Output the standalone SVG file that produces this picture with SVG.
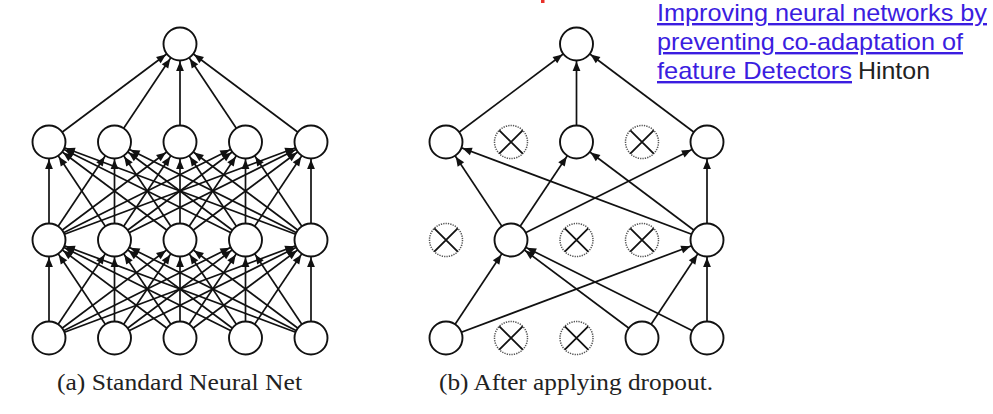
<svg xmlns="http://www.w3.org/2000/svg" xmlns:xlink="http://www.w3.org/1999/xlink" width="993" height="414" viewBox="0 0 993 414">
<style>
.bg{fill:#fff}
.n{fill:#fff;stroke:#111;stroke-width:1.9}
.d{fill:#fff;stroke:#555;stroke-width:1.5;stroke-dasharray:1.3 1.1}
.x{fill:none;stroke:#111;stroke-width:1.8}
.c line{stroke:#111;stroke-width:1.7;marker-end:url(#ah)}
.cap{font-family:"Liberation Serif","DejaVu Serif",serif;font-size:24px;fill:#222}
.ref{font-family:"Liberation Sans",Arial,sans-serif;font-size:24px}
.lnk{fill:#3b1de0;text-decoration:underline}
.blk{fill:#222}
</style>
<defs>
<marker id="ah" markerUnits="userSpaceOnUse" viewBox="-30 -10 40 20" markerWidth="40" markerHeight="20" refX="0" refY="0" orient="auto">
<path d="M-27,-3.9 L-17.6,0 L-27,3.9 Z" fill="#111"/>
</marker>
<g id="drop">
<circle class="d" cx="0" cy="0" r="16.5"/>
<path class="x" d="M-11.7,-11.7 L11.7,11.7 M11.7,-11.7 L-11.7,11.7"/>
</g>
</defs>
<rect class="bg" x="0" y="0" width="993" height="414"/>
<rect x="541" y="0" width="3.5" height="3" fill="#e8312a"/>

<g id="connectors" class="c">
<!-- (a) output -->
<line x1="49" y1="142" x2="180" y2="44"/>
<line x1="114.5" y1="142" x2="180" y2="44"/>
<line x1="180" y1="142" x2="180" y2="44"/>
<line x1="245.5" y1="142" x2="180" y2="44"/>
<line x1="311" y1="142" x2="180" y2="44"/>
<!-- (a) h2 -> h1 -->
<line x1="49" y1="240" x2="49" y2="142"/>
<line x1="114.5" y1="240" x2="49" y2="142"/>
<line x1="180" y1="240" x2="49" y2="142"/>
<line x1="245.5" y1="240" x2="49" y2="142"/>
<line x1="311" y1="240" x2="49" y2="142"/>
<line x1="49" y1="240" x2="114.5" y2="142"/>
<line x1="114.5" y1="240" x2="114.5" y2="142"/>
<line x1="180" y1="240" x2="114.5" y2="142"/>
<line x1="245.5" y1="240" x2="114.5" y2="142"/>
<line x1="311" y1="240" x2="114.5" y2="142"/>
<line x1="49" y1="240" x2="180" y2="142"/>
<line x1="114.5" y1="240" x2="180" y2="142"/>
<line x1="180" y1="240" x2="180" y2="142"/>
<line x1="245.5" y1="240" x2="180" y2="142"/>
<line x1="311" y1="240" x2="180" y2="142"/>
<line x1="49" y1="240" x2="245.5" y2="142"/>
<line x1="114.5" y1="240" x2="245.5" y2="142"/>
<line x1="180" y1="240" x2="245.5" y2="142"/>
<line x1="245.5" y1="240" x2="245.5" y2="142"/>
<line x1="311" y1="240" x2="245.5" y2="142"/>
<line x1="49" y1="240" x2="311" y2="142"/>
<line x1="114.5" y1="240" x2="311" y2="142"/>
<line x1="180" y1="240" x2="311" y2="142"/>
<line x1="245.5" y1="240" x2="311" y2="142"/>
<line x1="311" y1="240" x2="311" y2="142"/>
<!-- (a) in -> h2 -->
<line x1="49" y1="338" x2="49" y2="240"/>
<line x1="114.5" y1="338" x2="49" y2="240"/>
<line x1="180" y1="338" x2="49" y2="240"/>
<line x1="245.5" y1="338" x2="49" y2="240"/>
<line x1="311" y1="338" x2="49" y2="240"/>
<line x1="49" y1="338" x2="114.5" y2="240"/>
<line x1="114.5" y1="338" x2="114.5" y2="240"/>
<line x1="180" y1="338" x2="114.5" y2="240"/>
<line x1="245.5" y1="338" x2="114.5" y2="240"/>
<line x1="311" y1="338" x2="114.5" y2="240"/>
<line x1="49" y1="338" x2="180" y2="240"/>
<line x1="114.5" y1="338" x2="180" y2="240"/>
<line x1="180" y1="338" x2="180" y2="240"/>
<line x1="245.5" y1="338" x2="180" y2="240"/>
<line x1="311" y1="338" x2="180" y2="240"/>
<line x1="49" y1="338" x2="245.5" y2="240"/>
<line x1="114.5" y1="338" x2="245.5" y2="240"/>
<line x1="180" y1="338" x2="245.5" y2="240"/>
<line x1="245.5" y1="338" x2="245.5" y2="240"/>
<line x1="311" y1="338" x2="245.5" y2="240"/>
<line x1="49" y1="338" x2="311" y2="240"/>
<line x1="114.5" y1="338" x2="311" y2="240"/>
<line x1="180" y1="338" x2="311" y2="240"/>
<line x1="245.5" y1="338" x2="311" y2="240"/>
<line x1="311" y1="338" x2="311" y2="240"/>
<!-- (b) output -->
<line x1="446" y1="142" x2="576.5" y2="44"/>
<line x1="576.5" y1="142" x2="576.5" y2="44"/>
<line x1="707" y1="142" x2="576.5" y2="44"/>
<!-- (b) h2 -> h1 -->
<line x1="511" y1="240" x2="446" y2="142"/>
<line x1="707" y1="240" x2="446" y2="142"/>
<line x1="511" y1="240" x2="576.5" y2="142"/>
<line x1="707" y1="240" x2="576.5" y2="142"/>
<line x1="511" y1="240" x2="707" y2="142"/>
<line x1="707" y1="240" x2="707" y2="142"/>
<!-- (b) in -> h2 -->
<line x1="446" y1="338" x2="511" y2="240"/>
<line x1="642" y1="338" x2="511" y2="240"/>
<line x1="707" y1="338" x2="511" y2="240"/>
<line x1="446" y1="338" x2="707" y2="240"/>
<line x1="642" y1="338" x2="707" y2="240"/>
<line x1="707" y1="338" x2="707" y2="240"/>
</g>

<!-- (a) nodes -->
<g id="a-out"><circle class="n" cx="180" cy="44" r="16.5"/></g>
<g id="a-h1-1"><circle class="n" cx="49" cy="142" r="16.5"/></g>
<g id="a-h1-2"><circle class="n" cx="114.5" cy="142" r="16.5"/></g>
<g id="a-h1-3"><circle class="n" cx="180" cy="142" r="16.5"/></g>
<g id="a-h1-4"><circle class="n" cx="245.5" cy="142" r="16.5"/></g>
<g id="a-h1-5"><circle class="n" cx="311" cy="142" r="16.5"/></g>
<g id="a-h2-1"><circle class="n" cx="49" cy="240" r="16.5"/></g>
<g id="a-h2-2"><circle class="n" cx="114.5" cy="240" r="16.5"/></g>
<g id="a-h2-3"><circle class="n" cx="180" cy="240" r="16.5"/></g>
<g id="a-h2-4"><circle class="n" cx="245.5" cy="240" r="16.5"/></g>
<g id="a-h2-5"><circle class="n" cx="311" cy="240" r="16.5"/></g>
<g id="a-in-1"><circle class="n" cx="49" cy="338" r="16.5"/></g>
<g id="a-in-2"><circle class="n" cx="114.5" cy="338" r="16.5"/></g>
<g id="a-in-3"><circle class="n" cx="180" cy="338" r="16.5"/></g>
<g id="a-in-4"><circle class="n" cx="245.5" cy="338" r="16.5"/></g>
<g id="a-in-5"><circle class="n" cx="311" cy="338" r="16.5"/></g>

<!-- (b) nodes -->
<g id="b-out"><circle class="n" cx="576.5" cy="44" r="16.5"/></g>
<g id="b-h1-1"><circle class="n" cx="446" cy="142" r="16.5"/></g>
<g id="b-h1-2"><use href="#drop" x="511" y="142"/></g>
<g id="b-h1-3"><circle class="n" cx="576.5" cy="142" r="16.5"/></g>
<g id="b-h1-4"><use href="#drop" x="642" y="142"/></g>
<g id="b-h1-5"><circle class="n" cx="707" cy="142" r="16.5"/></g>
<g id="b-h2-1"><use href="#drop" x="446" y="240"/></g>
<g id="b-h2-2"><circle class="n" cx="511" cy="240" r="16.5"/></g>
<g id="b-h2-3"><use href="#drop" x="576.5" y="240"/></g>
<g id="b-h2-4"><use href="#drop" x="642" y="240"/></g>
<g id="b-h2-5"><circle class="n" cx="707" cy="240" r="16.5"/></g>
<g id="b-in-1"><circle class="n" cx="446" cy="338" r="16.5"/></g>
<g id="b-in-2"><use href="#drop" x="511" y="338"/></g>
<g id="b-in-3"><use href="#drop" x="576.5" y="338"/></g>
<g id="b-in-4"><circle class="n" cx="642" cy="338" r="16.5"/></g>
<g id="b-in-5"><circle class="n" cx="707" cy="338" r="16.5"/></g>

<g id="captions">
<text class="cap" x="57" y="390" textLength="245" lengthAdjust="spacingAndGlyphs">(a) Standard Neural Net</text>
<text class="cap" x="439" y="390" textLength="274" lengthAdjust="spacingAndGlyphs">(b) After applying dropout.</text>
</g>

<g id="reference">
<text class="ref lnk" x="657" y="21" textLength="330" lengthAdjust="spacingAndGlyphs">Improving neural networks by</text>
<text class="ref lnk" x="657" y="50" textLength="306" lengthAdjust="spacingAndGlyphs">preventing co-adaptation of</text>
<text class="ref lnk" x="657" y="79" textLength="195" lengthAdjust="spacingAndGlyphs">feature Detectors</text>
<text class="ref blk" x="858" y="79" textLength="72" lengthAdjust="spacingAndGlyphs">Hinton</text>
</g>
</svg>
